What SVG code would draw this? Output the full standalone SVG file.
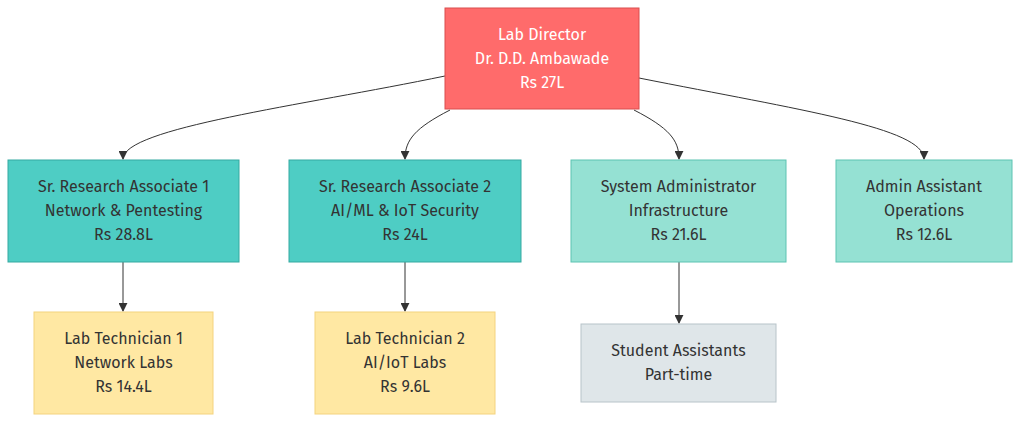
<svg xmlns="http://www.w3.org/2000/svg" width="1021" height="422" viewBox="0 0 1021 422">
<defs>
<marker id="arr" viewBox="0 0 10 10" refX="9" refY="5" markerWidth="9" markerHeight="9" markerUnits="userSpaceOnUse" orient="auto">
<path d="M0,0 L10,5 L0,10 z" fill="#333"/>
</marker>
<style>
.e{fill:none;stroke:#333;stroke-width:1;marker-end:url(#arr)}
text{font-family:"Fira Sans","Noto Sans","Liberation Sans",sans-serif;font-size:16px;text-anchor:middle;fill:#333}
.dir rect{fill:#ff6b6b;stroke:#d94f4f}
.dir text{fill:#fff}
.sra rect{fill:#4ecdc4;stroke:#34a9a1}
.lt rect{fill:#95e1d3;stroke:#5cc3b2}
.tech rect{fill:#ffe8a3;stroke:#f4d37e}
.stu rect{fill:#dfe6e9;stroke:#b8c4c9}
</style>
</defs>
<rect width="1021" height="422" fill="#fff"/>
<g id="connectors">
<path class="e" d="M445,76 C300,106 123,128 123,159"/>
<path class="e" d="M450,110 C415,128 405,140 405,159"/>
<path class="e" d="M634,110 C669,128 679,140 679,159"/>
<path class="e" d="M639,78 C800,110 924,128 924,159"/>
<path class="e" d="M123,262 L123,311"/>
<path class="e" d="M405,262 L405,311"/>
<path class="e" d="M679,262 L679,323"/>
</g>
<g id="director" class="dir">
<rect x="445" y="8" width="194" height="101"/>
<text x="542" y="40">Lab Director</text>
<text x="542" y="64">Dr. D.D. Ambawade</text>
<text x="542" y="88">Rs 27L</text>
</g>
<g id="sra1" class="sra">
<rect x="8" y="160" width="231" height="102"/>
<text x="123.5" y="192">Sr. Research Associate 1</text>
<text x="123.5" y="216">Network &amp; Pentesting</text>
<text x="123.5" y="240">Rs 28.8L</text>
</g>
<g id="sra2" class="sra">
<rect x="289" y="160" width="232" height="102"/>
<text x="405" y="192">Sr. Research Associate 2</text>
<text x="405" y="216">AI/ML &amp; IoT Security</text>
<text x="405" y="240">Rs 24L</text>
</g>
<g id="sysadmin" class="lt">
<rect x="571" y="160" width="215" height="102"/>
<text x="678.5" y="192">System Administrator</text>
<text x="678.5" y="216">Infrastructure</text>
<text x="678.5" y="240">Rs 21.6L</text>
</g>
<g id="admin" class="lt">
<rect x="836" y="160" width="176" height="102"/>
<text x="924" y="192">Admin Assistant</text>
<text x="924" y="216">Operations</text>
<text x="924" y="240">Rs 12.6L</text>
</g>
<g id="tech1" class="tech">
<rect x="34" y="312" width="179" height="102"/>
<text x="123.5" y="344">Lab Technician 1</text>
<text x="123.5" y="368">Network Labs</text>
<text x="123.5" y="392">Rs 14.4L</text>
</g>
<g id="tech2" class="tech">
<rect x="315" y="312" width="180" height="102"/>
<text x="405" y="344">Lab Technician 2</text>
<text x="405" y="368">AI/IoT Labs</text>
<text x="405" y="392">Rs 9.6L</text>
</g>
<g id="students" class="stu">
<rect x="581" y="324" width="195" height="78"/>
<text x="678.5" y="356">Student Assistants</text>
<text x="678.5" y="380">Part-time</text>
</g>
</svg>
